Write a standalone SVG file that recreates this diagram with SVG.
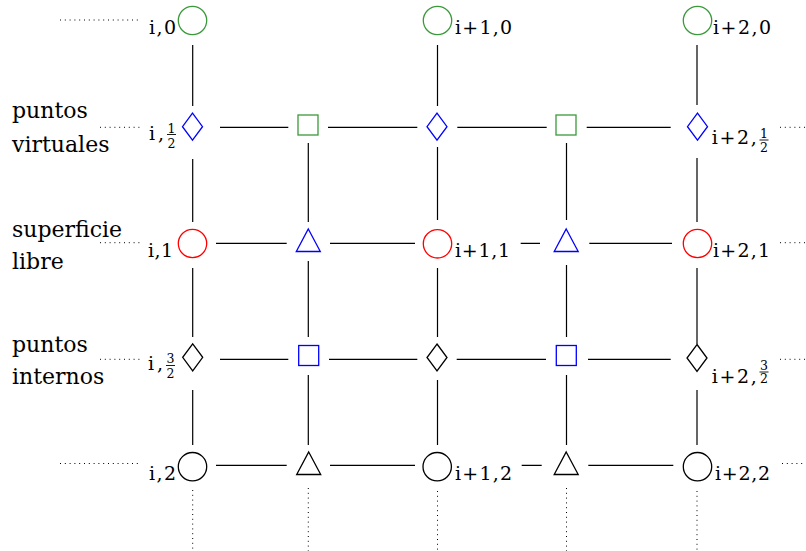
<svg xmlns="http://www.w3.org/2000/svg" width="806" height="551" viewBox="0 0 806 551">
  <style>
    .ln { stroke: #000; stroke-width: 1.2; fill: none; }
    .dot { stroke: #000; stroke-width: 1; fill: none; stroke-dasharray: 1 3.8; }
    .shape { fill: none; stroke-width: 1.3; }
    .green { stroke: #3a9a3a; }
    .blue { stroke: #0000ff; }
    .red { stroke: #ff0000; }
    .black { stroke: #000; }
    .lbl { font-family: "DejaVu Serif", serif; font-size: 19px; fill: #000; }
    .frac { font-family: "DejaVu Serif", serif; font-size: 12.5px; fill: #000; text-anchor: middle; }
    .bar { stroke: #000; stroke-width: 0.9; }
    .side { font-family: "DejaVu Serif", serif; font-size: 22px; fill: #000; }
  </style>
  <defs>
    <circle id="circ" r="14.2"/>
    <polygon id="diam" points="0,-13.5 10,0 0,13.5 -10,0"/>
    <rect id="sq" x="-10" y="-10" width="20" height="20"/>
    <polygon id="tri" points="0,-11.5 12,11 -12,11"/>
  </defs>

  <!-- row descriptions -->
  <g id="row-labels">
    <text class="side" x="12" y="117.5">puntos</text>
    <text class="side" x="12" y="151.5">virtuales</text>
    <text class="side" x="12" y="237">superficie</text>
    <text class="side" x="12" y="268.5">libre</text>
    <text class="side" x="12" y="352">puntos</text>
    <text class="side" x="12" y="384">internos</text>
  </g>

  <!-- connectors -->
  <g id="connectors">
    <!-- vertical solid -->
    <path class="ln" d="M192.7,45V106 M192.7,159V222 M192.7,268V337 M192.7,390V445"/>
    <path class="ln" d="M308.3,143V222 M308.3,261V337 M308.3,375V445"/>
    <path class="ln" d="M437.5,45V106 M437.5,147V220 M437.5,268V337 M437.5,380V445"/>
    <path class="ln" d="M566.5,143V220 M566.5,265V337 M566.5,375V445"/>
    <path class="ln" d="M697,45V105 M697,158V222 M697,268V344 M697,390V445"/>
    <!-- horizontal solid -->
    <path class="ln" d="M220,127.3H288.3 M328,127.3H417.3 M457.3,127.3H546.7 M586.7,127.3H670.7"/>
    <path class="ln" d="M216,243.3H286.7 M330,243.3H415 M520.7,243.3H540 M589.3,243.3H672"/>
    <path class="ln" d="M220,359.3H288.3 M329,359.3H417.3 M456.7,359.3H546 M588,359.3H670.7"/>
    <path class="ln" d="M216,465.3H286.7 M330,465.3H415 M521.7,465.3H541.7 M588.3,465.3H673.3"/>
    <!-- dotted continuations -->
    <path class="dot" d="M60,20H140 M100,127.3H140 M100,242.7H140 M100,359.3H140 M60,463.5H140"/>
    <path class="dot" d="M780,127.3H806 M780,242.7H806 M780,359.3H806 M782,463.5H806"/>
    <path class="dot" d="M192.7,490V551 M308.3,488V551 M437.5,491V551 M566.5,488V551 M697,491V551"/>
  </g>

  <!-- row 0 -->
  <g id="n-i-0">
    <use href="#circ" class="shape green" x="192.5" y="20.5"/>
    <text class="lbl" x="149" y="34" textLength="27" lengthAdjust="spacing">i,0</text>
  </g>
  <g id="n-i1-0">
    <use href="#circ" class="shape green" x="437.5" y="20.5"/>
    <text class="lbl" x="455" y="34" textLength="57" lengthAdjust="spacing">i+1,0</text>
  </g>
  <g id="n-i2-0">
    <use href="#circ" class="shape green" x="697.5" y="20.5"/>
    <text class="lbl" x="713" y="34" textLength="58" lengthAdjust="spacing">i+2,0</text>
  </g>

  <!-- row 1/2 -->
  <g id="n-i-half">
    <use href="#diam" class="shape blue" x="192.5" y="126.7"/>
    <text class="lbl" x="149" y="140" textLength="15" lengthAdjust="spacing">i,</text>
    <text class="frac" x="171.5" y="132.5">1</text>
    <line class="bar" x1="167" y1="134.5" x2="176" y2="134.5"/>
    <text class="frac" x="171.5" y="147.5">2</text>
  </g>
  <g id="n-b-half">
    <use href="#sq" class="shape green" x="308" y="125"/>
  </g>
  <g id="n-i1-half">
    <use href="#diam" class="shape blue" x="437" y="126.7"/>
  </g>
  <g id="n-d-half">
    <use href="#sq" class="shape green" x="566" y="125"/>
  </g>
  <g id="n-i2-half">
    <use href="#diam" class="shape blue" x="697.5" y="126.7"/>
    <text class="lbl" x="711.7" y="144" textLength="45" lengthAdjust="spacing">i+2,</text>
    <text class="frac" x="764" y="137.5">1</text>
    <line class="bar" x1="759.5" y1="140" x2="768.5" y2="140"/>
    <text class="frac" x="764" y="152">2</text>
  </g>

  <!-- row 1 -->
  <g id="n-i-1">
    <use href="#circ" class="shape red" x="192.5" y="243.5"/>
    <text class="lbl" x="148" y="257" textLength="25" lengthAdjust="spacing">i,1</text>
  </g>
  <g id="n-b-1">
    <use href="#tri" class="shape blue" x="308.3" y="240.5"/>
  </g>
  <g id="n-i1-1">
    <use href="#circ" class="shape red" x="437.5" y="243.8"/>
    <text class="lbl" x="455" y="257" textLength="55" lengthAdjust="spacing">i+1,1</text>
  </g>
  <g id="n-d-1">
    <use href="#tri" class="shape blue" x="566.2" y="240.5"/>
  </g>
  <g id="n-i2-1">
    <use href="#circ" class="shape red" x="697.5" y="243.5"/>
    <text class="lbl" x="713" y="257" textLength="57" lengthAdjust="spacing">i+2,1</text>
  </g>

  <!-- row 3/2 -->
  <g id="n-i-3half">
    <use href="#diam" class="shape black" x="192.7" y="357.3"/>
    <text class="lbl" x="148" y="370" textLength="15" lengthAdjust="spacing">i,</text>
    <text class="frac" x="170.5" y="363">3</text>
    <line class="bar" x1="166" y1="365.5" x2="175" y2="365.5"/>
    <text class="frac" x="170.5" y="378">2</text>
  </g>
  <g id="n-b-3half">
    <use href="#sq" class="shape blue" x="308.7" y="355.5"/>
  </g>
  <g id="n-i1-3half">
    <use href="#diam" class="shape black" x="437" y="357.5"/>
  </g>
  <g id="n-d-3half">
    <use href="#sq" class="shape blue" x="566.3" y="355.5"/>
  </g>
  <g id="n-i2-3half">
    <use href="#diam" class="shape black" x="697" y="358"/>
    <text class="lbl" x="711.7" y="383" textLength="45" lengthAdjust="spacing">i+2,</text>
    <text class="frac" x="764" y="369.5">3</text>
    <line class="bar" x1="759.5" y1="372" x2="768.5" y2="372"/>
    <text class="frac" x="764" y="383">2</text>
  </g>

  <!-- row 2 -->
  <g id="n-i-2">
    <use href="#circ" class="shape black" x="192.5" y="466.7"/>
    <text class="lbl" x="149" y="480" textLength="27" lengthAdjust="spacing">i,2</text>
  </g>
  <g id="n-b-2">
    <use href="#tri" class="shape black" x="308.7" y="463.5"/>
  </g>
  <g id="n-i1-2">
    <use href="#circ" class="shape black" x="437.2" y="466.7"/>
    <text class="lbl" x="455" y="480" textLength="57" lengthAdjust="spacing">i+1,2</text>
  </g>
  <g id="n-d-2">
    <use href="#tri" class="shape black" x="566.2" y="463.5"/>
  </g>
  <g id="n-i2-2">
    <use href="#circ" class="shape black" x="697.5" y="466.7"/>
    <text class="lbl" x="715" y="480" textLength="55" lengthAdjust="spacing">i+2,2</text>
  </g>
</svg>
